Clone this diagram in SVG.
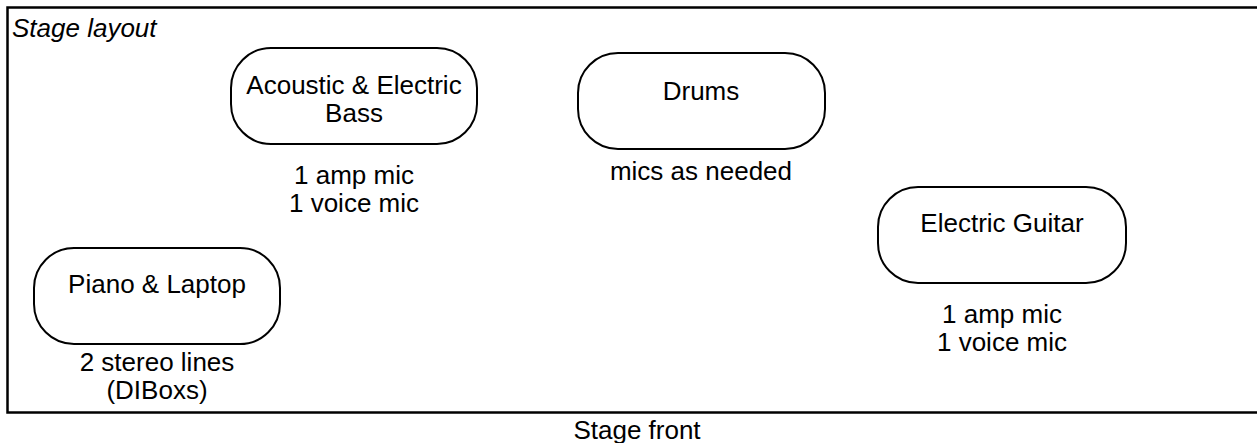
<svg xmlns="http://www.w3.org/2000/svg" width="1257" height="443" viewBox="0 0 1257 443">
<style>
.t{font-family:"Liberation Sans",Arial,sans-serif;font-size:26px;fill:#000;text-anchor:middle}
.n{fill:#fff;stroke:#000;stroke-width:2}
</style>
<rect x="0" y="0" width="1257" height="443" fill="#fff"/>
<g id="stage">
<rect x="7.5" y="7.5" width="1260" height="405" fill="none" stroke="#000" stroke-width="2.5"/>
<text x="12" y="37" class="t" style="text-anchor:start;font-style:italic">Stage layout</text>
</g>
<g id="bass">
<rect class="n" x="231" y="48" width="246" height="96" rx="40" ry="40"/>
<text class="t" x="354" y="94">Acoustic &amp; Electric</text>
<text class="t" x="354" y="122">Bass</text>
<text class="t" x="354" y="184">1 amp mic</text>
<text class="t" x="354" y="212">1 voice mic</text>
</g>
<g id="drums">
<rect class="n" x="578" y="53" width="247" height="96" rx="40" ry="40"/>
<text class="t" x="701" y="100">Drums</text>
<text class="t" x="701" y="180">mics as needed</text>
</g>
<g id="guitar">
<rect class="n" x="878" y="187" width="248" height="96" rx="40" ry="40"/>
<text class="t" x="1002" y="232">Electric Guitar</text>
<text class="t" x="1002" y="323">1 amp mic</text>
<text class="t" x="1002" y="351">1 voice mic</text>
</g>
<g id="piano">
<rect class="n" x="34" y="248" width="246" height="96" rx="40" ry="40"/>
<text class="t" x="157" y="293">Piano &amp; Laptop</text>
<text class="t" x="157" y="371">2 stereo lines</text>
<text class="t" x="157" y="399">(DIBoxs)</text>
</g>
<g id="front">
<text class="t" x="637" y="439">Stage front</text>
</g>
<g id="connectors"></g>
</svg>
